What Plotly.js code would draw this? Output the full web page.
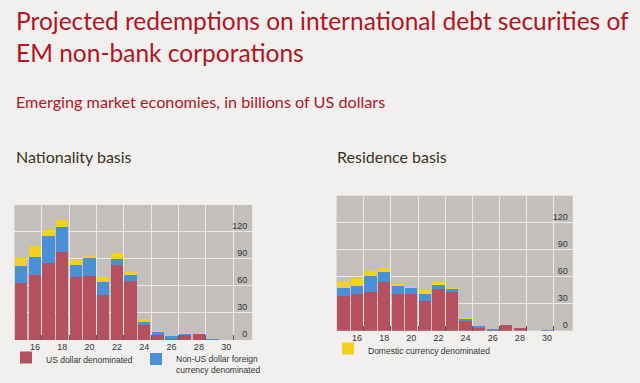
<!DOCTYPE html>
<html><head><meta charset="utf-8">
<script src="https://cdn.plot.ly/plotly-3.0.1.min.js"></script>
<style>html,body{margin:0;padding:0;background:#f1f0ee;}</style>
</head><body><div id="chart" style="width:640px;height:383px;"></div>
<script>
const years = [15,16,17,18,19,20,21,22,23,24,25,26,27,28,29,30];
const natUSD      = [63,72.5,86,98,70.5,71,50.5,83,66,16.5,5,1,6,6.5,0,0];
const natNonUSD   = [19.5,20,29,28,13,20,13.5,7,6,3,4,3,0.5,0.3,0.7,0];
const natDomestic = [9,12,7.5,7.5,5,2.5,6,6.5,3,2.5,0.8,0,1,0.5,0,0];
const resUSD      = [38.5,40.4,42.6,54.4,40.4,40.4,33.3,46,42.6,11,3,1,6,2.5,0,0];
const resNonUSD   = [8.5,9.6,18,10.8,9.2,7,7.4,4.5,3.7,2,2.5,0.5,0,0,0,1];
const resDomestic = [7.4,8,6,4.8,2.6,1.5,4.5,4,1.5,1,0,0,0.3,0,0,0];
const xTickVals = [16,18,20,22,24,26,28,30];
const xGridVals = [16.5,18.5,20.5,22.5,24.5,26.5,28.5,30.5];
const yTickVals = [0,30,60,90,120];
const seriesNames = ['US dollar denominated','Non-US dollar foreign<br>currency denominated','Domestic currency denominated'];

const colors = ['#b5505f','#4a8fd8','#f2d21e'];
const FONT = '"Liberation Sans Narrow", "Liberation Sans", Arial, sans-serif';
const TFONT = 'Lato, "Open Sans", sans-serif';

function bar(y, name, idx, xa, ya, legend, show){
  return {type:'bar', x:years, y:y, name:name, xaxis:xa, yaxis:ya,
    marker:{color:colors[idx], line:{width:0}}, showlegend:show, legend:legend,
    hoverinfo:'skip'};
}
const data = [
  bar(natUSD, seriesNames[0], 0, 'x', 'y', 'legend', true),
  bar(natNonUSD, seriesNames[1], 1, 'x', 'y', 'legend2', true),
  bar(natDomestic, seriesNames[2], 2, 'x', 'y', 'legend', false),
  bar(resUSD, seriesNames[0], 0, 'x2', 'y2', 'legend', false),
  bar(resNonUSD, seriesNames[1], 1, 'x2', 'y2', 'legend', false),
  bar(resDomestic, seriesNames[2], 2, 'x2', 'y2', 'legend3', true)
];

function xax(domain, anchor){
  return {domain:domain, anchor:anchor, range:[14.5,31.9], tickmode:'array', tickvals:xTickVals,
    ticktext:xTickVals.map(String), showgrid:false, zeroline:false, showline:false, ticks:'',
    tickfont:{family:FONT, size:9, color:'#333'}, fixedrange:true,
    minor:{tickmode:'array', tickvals:xGridVals, showgrid:true, gridcolor:'#eceae8', gridwidth:1,
      ticks:'inside', ticklen:5, tickwidth:1, tickcolor:'#5a5555'}};
}
function yax(domain, anchor){
  return {domain:domain, anchor:anchor, side:'right', range:[0,150], tickmode:'array', tickvals:yTickVals,
    ticklabelposition:'inside', ticklabeloverflow:'allow', ticklabelshift:-6, ticklabelstandoff:2,
    showgrid:true, gridcolor:'#eceae8', gridwidth:1,
    zeroline:false, showline:false, ticks:'', tickfont:{family:FONT, size:9, color:'#333'}, fixedrange:true};
}
const legendFont = {family:FONT, size:8.5, color:'#333'};
const layout = {
  width:640, height:383, margin:{l:0,r:0,t:0,b:0},
  paper_bgcolor:'#f1f0ee', plot_bgcolor:'#c3bfbc', barmode:'stack', bargap:0.1,
  xaxis:xax([0.0225,0.394],'y'), yaxis:yax([0.1123,0.4648],'x'),
  xaxis2:xax([0.526,0.895],'y2'), yaxis2:yax([0.1366,0.489],'x2'),
  legend:{x:6/640, y:1-360/383, xanchor:'left', yanchor:'middle', bgcolor:'rgba(0,0,0,0)', font:legendFont, valign:'top'},
  legend2:{x:136/640, y:1-365/383, xanchor:'left', yanchor:'middle', bgcolor:'rgba(0,0,0,0)', font:legendFont, valign:'top'},
  legend3:{x:328/640, y:1-351/383, xanchor:'left', yanchor:'middle', bgcolor:'rgba(0,0,0,0)', font:legendFont, valign:'top'},
  annotations:[
    {text:'Projected redemptions on international debt securities of<br>EM non-bank corporations', xref:'paper', yref:'paper',
     x:0.022, y:1-4/383, xanchor:'left', yanchor:'top', align:'left', showarrow:false,
     font:{family:TFONT, size:24.5, color:'#b3141e'}},
    {text:'Emerging market economies, in billions of US dollars', xref:'paper', yref:'paper',
     x:0.022, y:1-101/383, xanchor:'left', yanchor:'middle', showarrow:false,
     font:{family:TFONT, size:16.2, color:'#b3141e'}},
    {text:'Nationality basis', xref:'paper', yref:'paper', x:0.022, y:1-157/383, xanchor:'left', yanchor:'middle', showarrow:false,
     font:{family:TFONT, size:16, color:'#3a3322'}},
    {text:'Residence basis', xref:'paper', yref:'paper', x:335/640, y:1-156/383, xanchor:'left', yanchor:'middle', showarrow:false,
     font:{family:TFONT, size:16, color:'#3a3322'}}
  ]
};
Plotly.newPlot('chart', data, layout, {staticPlot:true, displayModeBar:false});
</script></body></html>
